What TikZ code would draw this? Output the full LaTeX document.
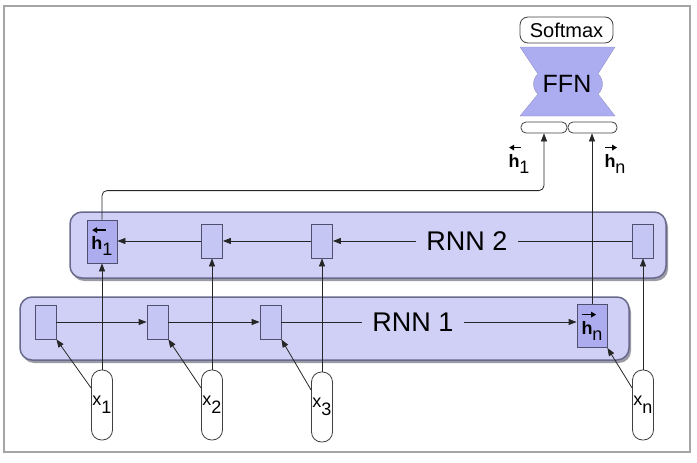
\documentclass[tikz,border=0pt]{standalone}
\usepackage{fontspec}
\setmainfont{Liberation Sans}
\usetikzlibrary{arrows.meta}
\definecolor{boxfill}{RGB}{208,208,246}
\definecolor{boxline}{RGB}{105,105,140}
\definecolor{cellfill}{RGB}{198,198,245}
\definecolor{cellline}{RGB}{80,80,110}
\definecolor{hfill}{RGB}{172,172,238}
\definecolor{ffnfill}{RGB}{172,172,240}
\definecolor{framecol}{RGB}{165,165,165}
\definecolor{shadowcol}{RGB}{155,155,165}
\newcommand{\harr}[3]{\vbox{\offinterlineskip\hbox{\tikz[x=1pt,y=1pt,baseline=0pt]\draw[#1, line width=1.3pt] (0,0) -- (#3,0);}\kern4pt\hbox{\textbf{h}\raisebox{-0.32em}{#2}}}}
\newcommand{\hleft}[2][12]{\harr{{Triangle[length=5pt,width=5.5pt]}-}{#2}{#1}}
\newcommand{\hright}[2][12]{\harr{-{Triangle[length=5pt,width=5.5pt]}}{#2}{#1}}
\newcommand{\xlab}[1]{x\raisebox{-0.45em}{#1}}
\begin{document}
\begin{tikzpicture}[x=1pt,y=-1pt,
  arr/.style={-{Triangle[length=8pt,width=6pt]}, line width=0.8pt, draw=black!85},
  conn/.style={line width=0.8pt, draw=black!85},
  cellbox/.style={draw=cellline, fill=cellfill, line width=0.8pt, minimum width=21pt, minimum height=34pt, inner sep=0pt},
  hbox/.style={draw=cellline, fill=hfill, line width=0.8pt, minimum width=30pt, minimum height=43pt, inner sep=0pt, font=\fontsize{18}{18}\selectfont},
  layer/.style={draw=boxline, fill=boxfill, line width=1.5pt, rounded corners=12pt},
  layershadow/.style={fill=shadowcol, rounded corners=12pt},
  xin/.style={draw=black!75, fill=white, rounded corners=10pt, minimum width=21pt, minimum height=70pt, inner sep=0pt, line width=0.8pt, font=\fontsize{18}{18}\selectfont},
  pill/.style={draw=black!75, fill=white, rounded corners=5pt, minimum height=11pt, inner sep=0pt, line width=0.8pt},
  lab/.style={font=\fontsize{27}{27}\selectfont, inner sep=10pt, fill=boxfill},
  hlab/.style={font=\fontsize{18}{18}\selectfont, inner sep=0pt}
]
\useasboundingbox (0,0) rectangle (697,463);
\draw[framecol, line width=1.2pt] (4,6) rectangle (690,452);

% layers
\fill[layershadow] (72,215) rectangle (668,281);
\path[layer] (70,212) rectangle (666,278);
\fill[layershadow] (22,300) rectangle (631,363);
\path[layer] (20,297) rectangle (629,360);

% RNN 2 cells
\node[hbox] (h1) at (102,241.5) {\hleft[14]{1}};
\node[cellbox] (c2) at (212,241) {};
\node[cellbox] (c3) at (322,241) {};
\node[cellbox] (c4) at (643,241) {};
\node[lab] (rnn2) at (467,241) {RNN 2};

% RNN 1 cells
\node[cellbox] (d1) at (45.5,322) {};
\node[cellbox] (d2) at (157.5,322) {};
\node[cellbox] (d3) at (270.5,322) {};
\node[hbox] (hn) at (592,326) {\hright[14]{n}};
\node[lab] (rnn1) at (413,322) {RNN 1};

% inputs
\node[xin] (x1) at (102,405) {\xlab{1}};
\node[xin] (x2) at (212,405) {\xlab{2}};
\node[xin] (x3) at (322,407) {\xlab{3}};
\node[xin] (xn) at (643,405) {\xlab{n}};

% top
\node[draw=black!75, fill=white, rounded corners=8pt, minimum width=93pt, minimum height=26pt, inner sep=0pt, line width=0.8pt, font=\fontsize{20}{20}\selectfont] (soft) at (566.5,30) {Softmax};
\fill[ffnfill, draw=ffnfill!80!black, line width=0.3pt] (520,47) -- (615,47) -- (598,74)
  .. controls (604,79) and (604,89) .. (598,94) -- (615,116) -- (520,116) -- (538,94)
  .. controls (532,89) and (532,79) .. (538,74) -- cycle;
\node[font=\fontsize{25}{25}\selectfont, inner sep=0pt] (ffn) at (567,84) {FFN};
\node[pill, minimum width=46pt] (p1) at (544,127.5) {};
\node[pill, minimum width=49pt] (p2) at (592.5,127.5) {};
\node[hlab] (lh1) at (519,159) {\hleft[12]{1}};
\node[hlab] (lhn) at (615,159) {\hright[12]{n}};

% RNN 2 arrows
\draw[conn] (c4.west) -- (rnn2.east);
\draw[arr] (rnn2.west) -- (c3.east);
\draw[arr] (c3.west) -- (c2.east);
\draw[arr] (c2.west) -- (c2.west -| h1.east);

% RNN 1 arrows
\draw[arr] (d1.east) -- (d2.west);
\draw[arr] (d2.east) -- (d3.west);
\draw[conn] (d3.east) -- (rnn1.west);
\draw[arr] (rnn1.east) -- (rnn1.east -| hn.west);

% inputs to RNN 2
\draw[arr] (x1.north) -- (h1.south);
\draw[arr] (x2.north) -- (c2.south);
\draw[arr] (x3.north) -- (c3.south);
\draw[arr] (xn.north) -- (c4.south);

% inputs to RNN 1
\draw[arr] ([yshift=17pt]x1.west) -- (d1.south east);
\draw[arr] ([yshift=17pt]x2.west) -- (d2.south east);
\draw[arr] ([yshift=17pt]x3.west) -- (d3.south east);
\draw[arr] ([yshift=17pt]xn.west) -- (hn.south east);

% to FFN
\draw[arr, rounded corners=5pt] (h1.north) -- ++(0,-29) -| (p1.south);
\draw[arr] (hn.north) -- (hn.north |- p2.south);
\end{tikzpicture}
\end{document}
